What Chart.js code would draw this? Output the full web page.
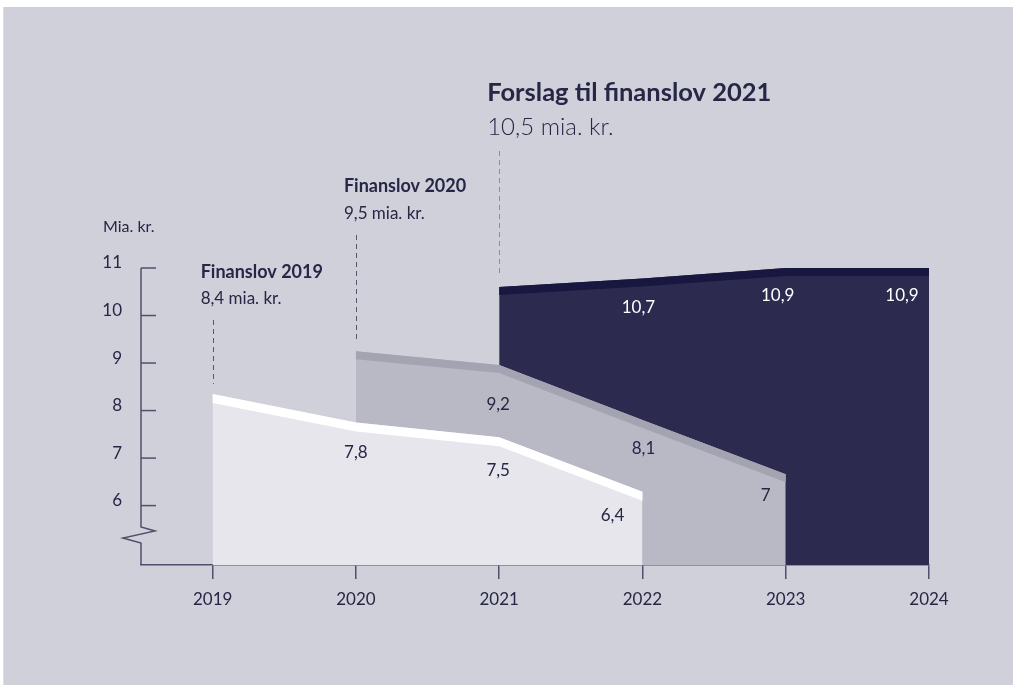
<!DOCTYPE html>
<html>
<head>
<meta charset="utf-8">
<script src="https://cdn.jsdelivr.net/npm/chart.js@4.4.0/dist/chart.umd.min.js"></script>
<style>
  html, body { margin: 0; padding: 0; background: #fff; }
  #bg { position: absolute; left: 3px; top: 7px; width: 1010px; height: 678px; background: #d0d0da; border-left: 1px solid #e4dcd8; }
  #wrap { position: absolute; left: 0; top: 0; width: 1013px; height: 692px; }
</style>
</head>
<body>
<div id="bg"></div>
<div id="wrap"><canvas id="chart"></canvas></div>
<script>
// aar og akse
const years = [2019, 2020, 2021, 2022, 2023, 2024];
const yTicks = [6, 7, 8, 9, 10, 11];

// Finanslov 2019
const years2019 = [2019, 2020, 2021, 2022];
const fl2019 = [8.35, 7.75, 7.44, 6.29];
const labels2019 = [null, 7.8, 7.5, 6.4];

// Finanslov 2020
const years2020 = [2020, 2021, 2022, 2023];
const fl2020 = [9.25, 8.96, 7.8, 6.66];
const labels2020 = [null, 9.2, 8.1, 7];

// Forslag til finanslov 2021
const years2021 = [2021, 2022, 2023, 2024];
const fl2021 = [10.6, 10.78, 11.0, 11.0];
const labels2021 = [null, 10.7, 10.9, 10.9];

const titles = ['Finanslov 2019', 'Finanslov 2020', 'Forslag til finanslov 2021'];
const amounts = ['8,4 mia. kr.', '9,5 mia. kr.', '10,5 mia. kr.'];

const axisColor = '#50506e';
const textColor = '#262646';
const family = 'Lato, "Open Sans", sans-serif';

function points(xs, ys) {
    return xs.map((x, i) => ({ x: x, y: ys[i] }));
}

const drawExtras = {
    id: 'drawExtras',
    afterDatasetDraw(chart, args) {
        const ds = chart.data.datasets[args.index];
        const pts = args.meta.data;
        const ctx = chart.ctx;
        ctx.save();
        // kant foroven paa hvert areal
        ctx.fillStyle = ds.bandColor;
        ctx.beginPath();
        pts.forEach((p, i) => i ? ctx.lineTo(p.x, p.y) : ctx.moveTo(p.x, p.y));
        for (let i = pts.length - 1; i >= 0; i--) ctx.lineTo(pts[i].x, pts[i].y + ds.bandWidth);
        ctx.closePath();
        ctx.fill();
        // tal
        ctx.fillStyle = ds.labelColor;
        ctx.font = '17px ' + family;
        ctx.textAlign = 'center';
        ctx.textBaseline = 'middle';
        ds.valueLabels.forEach((v, i) => {
            if (v === null) return;
            const s = ds.labelShift[i];
            ctx.fillText(String(v).replace('.', ','), pts[i].x + s[0], pts[i].y + s[1]);
        });
        ctx.restore();
    },
    afterDraw(chart) {
        const ctx = chart.ctx;
        const a = chart.chartArea;
        const yScale = chart.scales.y;
        ctx.save();
        // y-akse med brud
        ctx.strokeStyle = axisColor;
        ctx.lineWidth = 1.5;
        ctx.beginPath();
        ctx.moveTo(a.left, a.top);
        ctx.lineTo(a.left, a.bottom - 38);
        ctx.lineTo(a.left + 14, a.bottom - 34);
        ctx.lineTo(a.left - 18, a.bottom - 27);
        ctx.lineTo(a.left, a.bottom - 22);
        ctx.lineTo(a.left, a.bottom);
        ctx.stroke();
        // tickmarks ind i plottet
        yTicks.forEach(v => {
            const y = yScale.getPixelForValue(v);
            ctx.beginPath();
            ctx.moveTo(a.left, y);
            ctx.lineTo(a.left + 15, y);
            ctx.stroke();
        });
        // enhed
        ctx.fillStyle = textColor;
        ctx.font = '16px ' + family;
        ctx.textAlign = 'left';
        ctx.textBaseline = 'middle';
        ctx.fillText('Mia. kr.', 103, 227);

        // annoteringer
        const titleY = [272, 186, 93];
        const amountY = [299, 214, 127];
        const dashTop = [320, 235, 151];
        const dashGap = [10, 12, 12];
        const dashColor = ['#55556e', '#55556e', '#8e8ea2'];
        const titleFont = ['bold 18px ', 'bold 18px ', 'bold 25.5px '];
        const amountFont = ['17px ', '17px ', '300 24px '];
        chart.data.datasets.forEach((ds, i) => {
            const p0 = chart.getDatasetMeta(i).data[0];
            ctx.strokeStyle = dashColor[i];
            ctx.lineWidth = 1;
            ctx.setLineDash([5, 4]);
            ctx.beginPath();
            ctx.moveTo(Math.round(p0.x) + 0.5, dashTop[i]);
            ctx.lineTo(Math.round(p0.x) + 0.5, p0.y - dashGap[i]);
            ctx.stroke();
            ctx.setLineDash([]);
            ctx.fillStyle = textColor;
            ctx.font = titleFont[i] + family;
            ctx.fillText(titles[i], p0.x - 12, titleY[i]);
            ctx.font = amountFont[i] + family;
            ctx.fillText(amounts[i], p0.x - 12, amountY[i]);
        });
        ctx.restore();
    }
};

new Chart(document.getElementById('chart'), {
    type: 'line',
    data: {
        datasets: [{
            label: titles[0],
            data: points(years2019, fl2019),
            fill: 'start',
            backgroundColor: '#e6e6ec',
            bandColor: '#ffffff',
            bandWidth: 9,
            valueLabels: labels2019,
            labelColor: textColor,
            labelShift: [[0, 0], [0, 30], [-1, 33], [-30, 24]]
        }, {
            label: titles[1],
            data: points(years2020, fl2020),
            fill: 'start',
            backgroundColor: '#b9b9c5',
            bandColor: '#a3a3b1',
            bandWidth: 8,
            valueLabels: labels2020,
            labelColor: textColor,
            labelShift: [[0, 0], [-1, 40], [1, 28], [-20, 21]]
        }, {
            label: titles[2],
            data: points(years2021, fl2021),
            fill: 'start',
            backgroundColor: '#2c2b4f',
            bandColor: '#18173f',
            bandWidth: 8,
            valueLabels: labels2021,
            labelColor: '#ffffff',
            labelShift: [[0, 0], [-4, 29], [-8, 28], [-27, 28]]
        }]
    },
    options: {
        responsive: true,
        maintainAspectRatio: false,
        animation: false,
        layout: { padding: { top: 268, right: 84, left: 0, bottom: 0 } },
        elements: {
            line: { borderWidth: 0, tension: 0 },
            point: { radius: 0, hoverRadius: 0 }
        },
        plugins: {
            legend: { display: false },
            tooltip: { enabled: false }
        },
        scales: {
            x: {
                type: 'linear',
                min: 2018.5,
                max: 2024,
                z: 1,
                afterBuildTicks: s => { s.ticks = years.map(v => ({ value: v })); },
                afterFit: s => { s.height = 127; },
                ticks: {
                    callback: v => String(v),
                    color: textColor,
                    font: { family: family, size: 17 },
                    padding: 10,
                    maxRotation: 0
                },
                grid: { drawOnChartArea: false, drawTicks: true, tickLength: 14, color: axisColor, lineWidth: 1.5 },
                border: { display: true, color: axisColor, width: 1.5 }
            },
            y: {
                min: 4.75,
                max: 11,
                afterBuildTicks: s => { s.ticks = yTicks.map(v => ({ value: v })); },
                afterFit: s => { s.width = 141; },
                ticks: {
                    callback: v => String(v),
                    color: textColor,
                    font: { family: family, size: 17 },
                    padding: 11,
                    labelOffset: -5
                },
                grid: { display: false },
                border: { display: false }
            }
        }
    },
    plugins: [drawExtras]
});
</script>
</body>
</html>
